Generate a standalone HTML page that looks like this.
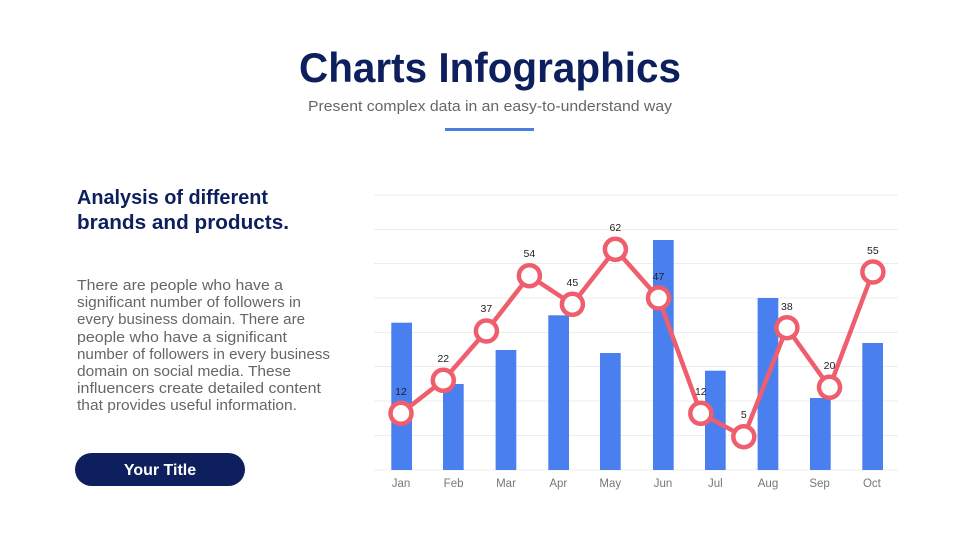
<!DOCTYPE html>
<html><head><meta charset="utf-8"><style>
html,body{margin:0;padding:0;background:#fff;}
svg{display:block;font-family:"Liberation Sans",sans-serif;}
</style></head><body>
<svg width="980" height="551" viewBox="0 0 980 551" xmlns="http://www.w3.org/2000/svg">
<text x="490" y="82" text-anchor="middle" font-size="42" font-weight="bold" fill="#0d1f5c" textLength="382" lengthAdjust="spacingAndGlyphs">Charts Infographics</text>
<text x="490" y="111" text-anchor="middle" font-size="15" fill="#666" textLength="364" lengthAdjust="spacingAndGlyphs">Present complex data in an easy-to-understand way</text>
<rect x="445" y="128" width="89" height="3" fill="#4a7fe0"/>
<text font-size="20" font-weight="bold" fill="#0d1f5c"><tspan x="77" y="204" textLength="191" lengthAdjust="spacingAndGlyphs">Analysis of different</tspan><tspan x="77" y="229" textLength="212" lengthAdjust="spacingAndGlyphs">brands and products.</tspan></text>
<g font-size="14.5" fill="#666">
<text x="77" y="290" textLength="206" lengthAdjust="spacingAndGlyphs">There are people who have a</text>
<text x="77" y="307" textLength="224" lengthAdjust="spacingAndGlyphs">significant number of followers in</text>
<text x="77" y="324" textLength="228" lengthAdjust="spacingAndGlyphs">every business domain. There are</text>
<text x="77" y="342" textLength="210" lengthAdjust="spacingAndGlyphs">people who have a significant</text>
<text x="77" y="359" textLength="253" lengthAdjust="spacingAndGlyphs">number of followers in every business</text>
<text x="77" y="376" textLength="214" lengthAdjust="spacingAndGlyphs">domain on social media. These</text>
<text x="77" y="393" textLength="244" lengthAdjust="spacingAndGlyphs">influencers create detailed content</text>
<text x="77" y="410" textLength="220" lengthAdjust="spacingAndGlyphs">that provides useful information.</text>
</g>
<rect x="75" y="453" width="170" height="33" rx="16.5" fill="#0d1f5c"/>
<text x="160" y="475" text-anchor="middle" font-size="16" font-weight="bold" fill="#fff">Your Title</text>
<g stroke="#ececec" stroke-width="1">
<line x1="374" x2="898" y1="195" y2="195"/><line x1="374" x2="898" y1="229.5" y2="229.5"/><line x1="374" x2="898" y1="263.5" y2="263.5"/><line x1="374" x2="898" y1="298" y2="298"/><line x1="374" x2="898" y1="332.5" y2="332.5"/><line x1="374" x2="898" y1="366.5" y2="366.5"/><line x1="374" x2="898" y1="401" y2="401"/><line x1="374" x2="898" y1="435.5" y2="435.5"/><line x1="374" x2="898" y1="470" y2="470"/>
</g>
<g fill="#4a7ff0">
<rect x="391.3" y="322.7" width="20.7" height="147.3"/>
<rect x="443" y="384" width="20.7" height="86"/>
<rect x="495.6" y="350" width="20.7" height="120"/>
<rect x="548.3" y="315.3" width="20.7" height="154.7"/>
<rect x="600" y="353" width="20.7" height="117"/>
<rect x="653" y="240" width="20.7" height="230"/>
<rect x="705" y="370.7" width="20.7" height="99.3"/>
<rect x="757.6" y="298" width="20.7" height="172"/>
<rect x="810" y="398" width="20.7" height="72"/>
<rect x="862.3" y="343" width="20.7" height="127"/>
</g>
<polyline fill="none" stroke="#ef5e6d" stroke-width="4.5" stroke-linejoin="round" points="401,413.3 443.3,380.3 486.4,331 529.4,275.7 572.4,304.3 615.4,249.3 658.5,298 700.8,413.3 743.8,436.7 786.9,327.7 829.5,387.3 872.9,272"/>
<g fill="#fff" stroke="#ef5e6d" stroke-width="4.5">
<circle cx="401" cy="413.3" r="10.5"/><circle cx="443.3" cy="380.3" r="10.5"/><circle cx="486.4" cy="331" r="10.5"/><circle cx="529.4" cy="275.7" r="10.5"/><circle cx="572.4" cy="304.3" r="10.5"/><circle cx="615.4" cy="249.3" r="10.5"/><circle cx="658.5" cy="298" r="10.5"/><circle cx="700.8" cy="413.3" r="10.5"/><circle cx="743.8" cy="436.7" r="10.5"/><circle cx="786.9" cy="327.7" r="10.5"/><circle cx="829.5" cy="387.3" r="10.5"/><circle cx="872.9" cy="272" r="10.5"/>
</g>
<g font-size="10.5" fill="#222" text-anchor="middle">
<text x="401" y="395">12</text><text x="443.3" y="362">22</text><text x="486.4" y="312">37</text><text x="529.4" y="257">54</text><text x="572.4" y="286">45</text><text x="615.4" y="231">62</text><text x="658.5" y="280">47</text><text x="700.8" y="395">12</text><text x="743.8" y="418">5</text><text x="786.9" y="310">38</text><text x="829.5" y="369">20</text><text x="872.9" y="254">55</text>
</g>
<g font-size="11.5" fill="#777" text-anchor="middle">
<text x="401" y="487">Jan</text><text x="453.6" y="487">Feb</text><text x="506" y="487">Mar</text><text x="558.3" y="487">Apr</text><text x="610.3" y="487">May</text><text x="663" y="487">Jun</text><text x="715.3" y="487">Jul</text><text x="768" y="487">Aug</text><text x="819.6" y="487">Sep</text><text x="871.9" y="487">Oct</text>
</g>
</svg>
</body></html>
